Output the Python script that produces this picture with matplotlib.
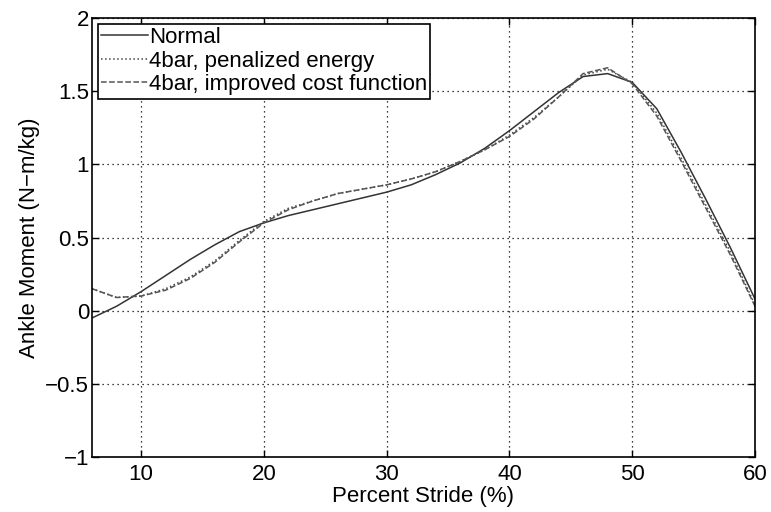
import numpy as np
import matplotlib.pyplot as plt

plt.rcParams["font.family"] = ["Liberation Sans", "DejaVu Sans"]

# percent stride samples
stride = [6, 8, 10, 12, 14, 16, 18, 20, 22, 24, 26, 28, 30, 32, 34, 36,
          38, 40, 42, 44, 46, 48, 50, 52, 54, 56, 58, 60]

normal = [-0.05, 0.03, 0.13, 0.24, 0.35, 0.45, 0.54, 0.60, 0.65, 0.69,
          0.73, 0.77, 0.81, 0.86, 0.93, 1.01, 1.11, 1.23, 1.36, 1.49,
          1.60, 1.62, 1.56, 1.38, 1.08, 0.76, 0.43, 0.08]

penalized = [0.15, 0.09, 0.10, 0.15, 0.23, 0.34, 0.48, 0.61, 0.70, 0.75,
             0.80, 0.83, 0.86, 0.90, 0.95, 1.02, 1.10, 1.20, 1.32, 1.46,
             1.61, 1.65, 1.56, 1.35, 1.04, 0.72, 0.40, 0.04]

improved = [0.15, 0.09, 0.10, 0.14, 0.22, 0.33, 0.47, 0.60, 0.69, 0.75,
            0.80, 0.83, 0.86, 0.90, 0.95, 1.02, 1.10, 1.19, 1.31, 1.46,
            1.62, 1.66, 1.55, 1.33, 1.02, 0.70, 0.38, 0.03]

fig = plt.figure(figsize=(7.71, 5.12), dpi=100)
ax = fig.add_axes([92 / 771, 55 / 512, 663 / 771, 439 / 512])

ax.plot(stride, normal, "-", lw=1.1, color="#333333", label="Normal")
ax.plot(stride, penalized, ":", lw=1.1, color="#444444",
        label="4bar, penalized energy")
ax.plot(stride, improved, "--", lw=1.1, color="#555555",
        label="4bar, improved cost function")

ax.set_xlim(6, 60)
ax.set_ylim(-1, 2)
ax.set_xticks([10, 20, 30, 40, 50, 60])
ax.set_yticks([-1, -0.5, 0, 0.5, 1, 1.5, 2])
ax.set_yticklabels(["\u22121", "\u22120.5", "0", "0.5", "1", "1.5", "2"])
ax.grid(True, color="black", linestyle=(0, (1, 3)), lw=0.9)
ax.tick_params(direction="in", top=True, right=True, labelsize=16,
               length=5, width=1)
ax.tick_params(axis="x", pad=5)
ax.tick_params(axis="y", pad=2)
for s in ax.spines.values():
    s.set_linewidth(1.2)

ax.set_xlabel("Percent Stride (%)", fontsize=16, labelpad=1)
ax.set_ylabel("Ankle Moment (N\u2212m/kg)", fontsize=16, labelpad=4)

leg = ax.legend(loc="upper left", fontsize=16, fancybox=False,
                framealpha=1, edgecolor="black", borderpad=0.15,
                handlelength=2.1, handletextpad=0.05, labelspacing=0.12,
                borderaxespad=0.25)
leg.get_frame().set_linewidth(1.2)

fig.savefig("out.png", dpi=100)
